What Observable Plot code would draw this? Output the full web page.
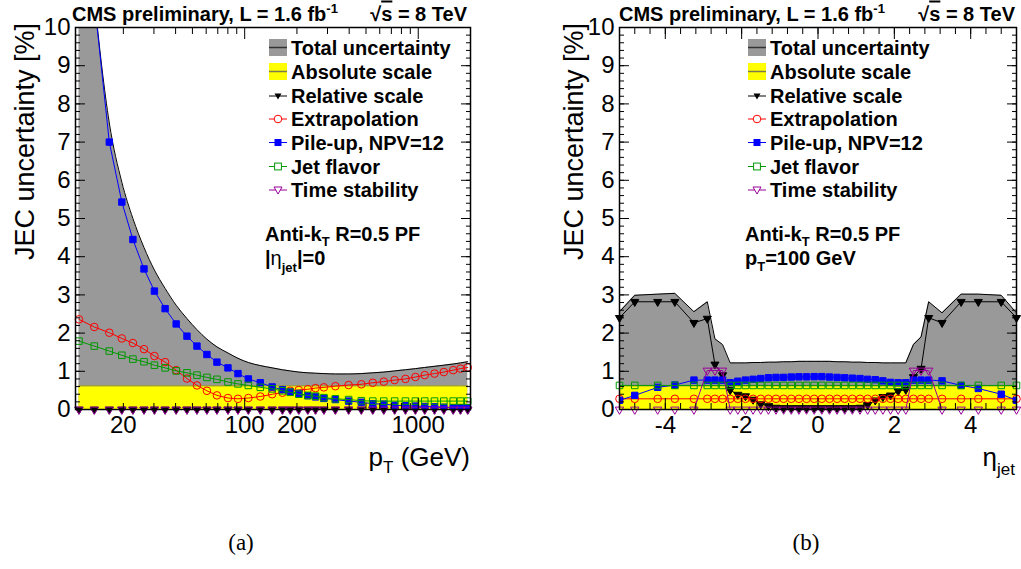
<!DOCTYPE html>
<html><head><meta charset="utf-8">
<script src="https://cdn.jsdelivr.net/npm/d3@7"></script>
<script src="https://cdn.jsdelivr.net/npm/@observablehq/plot@0.6"></script>
<style>
body{margin:0;background:#fff;}
#root{position:relative;width:1021px;height:569px;overflow:hidden;}
#root svg.panel{position:absolute;top:0;}
#overlay{position:absolute;left:0;top:0;pointer-events:none;}
</style></head><body><div id="root"></div>
<script>
// ---------- data: panel (a), vs pT ----------
const ptBins = [11.1,13.6,16.6,19.6,22.7,26.3,30.2,34.8,40.3,46.5,53.1,60.6,69.2,80.1,91.5,105,123,144,165,183,205,231,256,286,333,397,470,547,633,731,844,963,1090,1241,1404,1590,1751,1928];
const ptTotal = [15.5,10.8,7.5,5.95,5.0,4.24,3.65,3.17,2.73,2.38,2.09,1.84,1.64,1.48,1.34,1.23,1.15,1.09,1.04,1.01,0.98,0.96,0.95,0.94,0.93,0.93,0.94,0.96,0.98,1.01,1.04,1.07,1.10,1.13,1.16,1.19,1.22,1.25];
const ptAbsolute = 0.62;
const ptRelative = [0,0,0,0,0,0,0,0,0,0,0,0,0,0,0,0,0,0,0,0,0,0,0,0,0,0,0,0,0,0,0,0,0,0,0,0,0,0];
const ptExtrapolation = [2.36,2.16,2.01,1.86,1.74,1.58,1.40,1.24,1.03,0.81,0.63,0.49,0.37,0.30,0.28,0.30,0.34,0.40,0.44,0.49,0.51,0.53,0.56,0.58,0.61,0.64,0.66,0.70,0.73,0.77,0.80,0.85,0.90,0.94,0.98,1.03,1.07,1.10];
const ptPileup = [15.0,10.7,7.0,5.43,4.45,3.68,3.10,2.64,2.24,1.92,1.66,1.44,1.24,1.09,0.94,0.80,0.70,0.59,0.52,0.46,0.42,0.36,0.33,0.29,0.26,0.22,0.19,0.15,0.14,0.11,0.10,0.09,0.08,0.07,0.06,0.05,0.05,0.05];
const ptFlavor = [1.79,1.66,1.53,1.42,1.32,1.25,1.16,1.09,1.01,0.96,0.90,0.84,0.79,0.72,0.67,0.63,0.58,0.54,0.49,0.45,0.40,0.37,0.35,0.31,0.28,0.26,0.23,0.22,0.22,0.22,0.22,0.22,0.22,0.22,0.22,0.22,0.22,0.22];
const ptTime = [0,0,0,0,0,0,0,0,0,0,0,0,0,0,0,0,0,0,0,0,0,0,0,0,0,0,0,0,0,0,0,0,0,0,0,0,0,0];

// ---------- data: panel (b), vs eta ----------
const etaBins = [-5.2,-4.8,-4.2,-3.75,-3.25,-2.9,-2.7,-2.5,-2.3,-2.1,-1.9,-1.7,-1.5,-1.3,-1.1,-0.9,-0.7,-0.5,-0.3,-0.1,0.1,0.3,0.5,0.7,0.9,1.1,1.3,1.5,1.7,1.9,2.1,2.3,2.5,2.7,2.9,3.25,3.75,4.2,4.8,5.2];
const etaTotal = [2.56,2.99,3.02,3.04,2.56,2.82,1.85,1.70,1.22,1.22,1.22,1.23,1.23,1.24,1.24,1.25,1.25,1.26,1.26,1.26,1.26,1.26,1.25,1.25,1.24,1.24,1.23,1.23,1.22,1.22,1.22,1.22,1.70,1.90,2.82,2.53,3.02,3.02,2.99,2.53];
const etaAbsolute = 0.62;
const etaRelative = [2.40,2.82,2.82,2.82,2.27,2.38,1.18,0.90,0.51,0.39,0.35,0.26,0.14,0.09,0.05,0.04,0.04,0.04,0.04,0.04,0.04,0.04,0.04,0.04,0.04,0.05,0.12,0.24,0.33,0.37,0.48,0.52,0.85,1.07,2.40,2.27,2.82,2.82,2.82,2.40];
const etaExtrapolation = [0.28,0.28,0.28,0.28,0.28,0.28,0.28,0.28,0.28,0.28,0.28,0.28,0.28,0.28,0.28,0.28,0.28,0.28,0.28,0.28,0.28,0.28,0.28,0.28,0.28,0.28,0.28,0.28,0.28,0.28,0.28,0.28,0.28,0.28,0.28,0.28,0.28,0.28,0.28,0.28];
const etaPileup = [0.24,0.37,0.58,0.64,0.77,0.77,0.77,0.77,0.70,0.74,0.77,0.79,0.81,0.83,0.84,0.84,0.85,0.855,0.855,0.86,0.86,0.85,0.84,0.83,0.82,0.81,0.79,0.78,0.75,0.71,0.70,0.70,0.77,0.77,0.77,0.75,0.63,0.55,0.40,0.24];
const etaFlavor = [0.63,0.63,0.63,0.63,0.63,0.63,0.63,0.63,0.63,0.63,0.63,0.63,0.63,0.63,0.63,0.63,0.63,0.63,0.63,0.63,0.63,0.63,0.63,0.63,0.63,0.63,0.63,0.63,0.63,0.63,0.63,0.63,0.63,0.63,0.63,0.63,0.63,0.63,0.63,0.63];
const etaTime = [0,0,0,0,0,1.02,1.02,1.02,0,0,0,0,0,0,0,0,0,0,0,0,0,0,0,0,0,0,0,0,0,0,0,0,1.02,1.02,1.02,0,0,0,0,0];

// ---------- ticks / labels ----------
const yMajor = [0,1,2,3,4,5,6,7,8,9,10];
const yMinor = d3.range(0, 10.001, 0.2);
const ptMajor = [100, 1000];
const ptMinor = [20,30,40,50,60,70,80,90,200,300,400,500,600,700,800,900,2000];
const ptLabels = [20, 100, 200, 1000];
const etaMajor = [-4,-2,0,2,4];
const etaMinor = d3.range(-5.2, 5.21, 0.4).map(v => Math.round(v*10)/10);
const etaLabels = [-4,-2,0,2,4];

const legendNames = ["Total uncertainty","Absolute scale","Relative scale","Extrapolation","Pile-up, NPV=12","Jet flavor","Time stability"];
const colors = {total:"#999999", absolute:"#ffff00", relative:"#000000", extrapolation:"#ff0000", pileup:"#0000ff", flavor:"#009900", time:"#990099"};

const ptRows = ptBins.map((x,i)=>({x, total:ptTotal[i], abs:ptAbsolute, rel:ptRelative[i], ext:ptExtrapolation[i], pu:ptPileup[i], flav:ptFlavor[i], time:ptTime[i]}));
const etaRows = etaBins.map((x,i)=>({x, total:etaTotal[i], abs:etaAbsolute, rel:etaRelative[i], ext:etaExtrapolation[i], pu:etaPileup[i], flav:etaFlavor[i], time:etaTime[i]}));

function seriesMarks(rows, curveTotal) {
  const line = (y, c) => Plot.lineY(rows, {x:"x", y, stroke:c, strokeWidth:1, clip:true});
  return [
    Plot.areaY(rows, {x:"x", y:"total", fill:colors.total, curve:curveTotal, clip:true}),
    Plot.lineY(rows, {x:"x", y:"total", stroke:"#000", strokeWidth:1, curve:curveTotal, clip:true}),
    Plot.areaY(rows, {x:"x", y:"abs", fill:colors.absolute, clip:true}),
    Plot.lineY(rows, {x:"x", y:"abs", stroke:"#7a7a50", strokeWidth:1, clip:true}),
    line("rel", colors.relative),
    Plot.dot(rows, {x:"x", y:"rel", symbol:"triangle", rotate:180, r:3, fill:colors.relative, stroke:colors.relative, strokeWidth:1}),
    line("ext", colors.extrapolation),
    Plot.dot(rows, {x:"x", y:"ext", symbol:"circle", r:3.8, fill:"none", stroke:colors.extrapolation, strokeWidth:1}),
    line("pu", colors.pileup),
    Plot.dot(rows, {x:"x", y:"pu", symbol:"square", r:3.6, fill:colors.pileup, stroke:colors.pileup, strokeWidth:1, clip:true}),
    line("flav", colors.flavor),
    Plot.dot(rows, {x:"x", y:"flav", symbol:"square", r:3.7, fill:"none", stroke:colors.flavor, strokeWidth:1}),
    line("time", colors.time),
    Plot.dot(rows, {x:"x", y:"time", symbol:"triangle", rotate:180, r:3.1, fill:"none", stroke:colors.time, strokeWidth:1})
  ];
}

function axisMarks(xMajor, xMinor, xLabels, xFmt) {
  const none = () => "";
  return [
    Plot.axisY({anchor:"left", ticks:yMajor, tickSize:-10, tickFormat:none, label:null}),
    Plot.axisY({anchor:"left", ticks:yMinor, tickSize:-5, tickFormat:none, label:null}),
    Plot.axisY({anchor:"right", ticks:yMajor, tickSize:-10, tickFormat:none, label:null}),
    Plot.axisY({anchor:"right", ticks:yMinor, tickSize:-5, tickFormat:none, label:null}),
    Plot.axisX({anchor:"bottom", ticks:xMajor, tickSize:-11, tickFormat:none, label:null}),
    Plot.axisX({anchor:"bottom", ticks:xMinor, tickSize:-6, tickFormat:none, label:null}),
    Plot.axisX({anchor:"top", ticks:xMajor, tickSize:-11, tickFormat:none, label:null}),
    Plot.axisX({anchor:"top", ticks:xMinor, tickSize:-6, tickFormat:none, label:null}),
    Plot.axisY({anchor:"left", ticks:yMajor, tickSize:0, tickPadding:5, tickFormat:d=>String(d), label:null}),
    Plot.axisX({anchor:"bottom", ticks:xLabels, tickSize:0, tickPadding:6, tickFormat:xFmt, label:null}),
    Plot.frame({stroke:"#000", strokeWidth:1.5})
  ];
}

const style = {fontFamily:"'Liberation Sans', Arial, Helvetica, sans-serif", fontSize:"24px", color:"#000", background:"transparent"};

const left = Plot.plot({
  width: 500, height: 569,
  marginLeft: 75, marginRight: 30, marginTop: 27, marginBottom: 160,
  x: {type:"log", domain:[10.6, 2000], label:null},
  y: {domain:[0,10], label:null},
  style,
  marks: [...seriesMarks(ptRows, "monotone-x"), ...axisMarks(ptMajor, ptMinor, ptLabels, d=>String(d))]
});
left.classList.add("panel"); left.style.left = "0px";

const right = Plot.plot({
  width: 481, height: 569,
  marginLeft: 79, marginRight: 5, marginTop: 27, marginBottom: 160,
  x: {domain:[-5.2, 5.2], label:null},
  y: {domain:[0,10], label:null},
  style,
  marks: [...seriesMarks(etaRows, "linear"), ...axisMarks(etaMajor, etaMinor, etaLabels, d=>String(d).replace("−","-"))]
});
right.classList.add("panel"); right.style.left = "540px";

const root = document.getElementById("root");
root.appendChild(left); root.appendChild(right);

// ---------- text overlay ----------
const NS = "http://www.w3.org/2000/svg";
const ov = document.createElementNS(NS, "svg");
ov.setAttribute("id","overlay"); ov.setAttribute("width",1021); ov.setAttribute("height",569);
ov.setAttribute("font-family","'Liberation Sans', Arial, Helvetica, sans-serif");
root.appendChild(ov);
function el(tag, attrs, html) {
  const e = document.createElementNS(NS, tag);
  for (const k in attrs) e.setAttribute(k, attrs[k]);
  if (html !== undefined) e.innerHTML = html;
  ov.appendChild(e); return e;
}
const legendBaselines = [54.5, 78.5, 103, 126, 149.5, 173.5, 197];

function panelText(o) {
  el("text", {x:o.hx, y:20.5, "font-size":20, "font-weight":"bold"}, 'CMS preliminary, L = 1.6 fb<tspan font-size="13" dy="-8">-1</tspan>');
  el("text", {x:o.sx, y:20.5, "font-size":20, "font-weight":"bold", "text-anchor":"end"}, '√<tspan style="text-decoration:overline">s</tspan> = 8 TeV');
  const sx = o.lx, sw = 18;
  legendNames.forEach((name, i) => {
    const b = legendBaselines[i], c = b - 7;
    el("text", {x:o.lx + 22, y:b, "font-size":20, "font-weight":"bold"}, name);
    if (i === 0) { el("rect",{x:sx,y:c-8.5,width:sw,height:17,fill:colors.total}); el("line",{x1:sx,x2:sx+sw,y1:c,y2:c,stroke:"#333","stroke-width":1.5}); }
    else if (i === 1) { el("rect",{x:sx,y:c-8.5,width:sw,height:17,fill:colors.absolute}); el("line",{x1:sx,x2:sx+sw,y1:c,y2:c,stroke:"#7a7a50","stroke-width":1.5}); }
    else {
      const col = [null,null,colors.relative,colors.extrapolation,colors.pileup,colors.flavor,colors.time][i];
      el("line",{x1:sx,x2:sx+sw,y1:c,y2:c,stroke:col,"stroke-width":1});
      const mx = sx + sw/2;
      if (i === 2) el("path",{d:`M${mx-3.5},${c-2.5}L${mx+3.5},${c-2.5}L${mx},${c+3.5}Z`, fill:col});
      if (i === 3) el("circle",{cx:mx,cy:c,r:3.8,fill:"#fff",stroke:col});
      if (i === 4) el("rect",{x:mx-3.5,y:c-3.5,width:7,height:7,fill:col});
      if (i === 5) el("rect",{x:mx-3.4,y:c-3.4,width:6.8,height:6.8,fill:"#fff",stroke:col});
      if (i === 6) el("path",{d:`M${mx-4},${c-3}L${mx+4},${c-3}L${mx},${c+4}Z`, fill:"#fff", stroke:col});
    }
  });
  el("text", {x:o.ax, y:241, "font-size":20, "font-weight":"bold"}, 'Anti-k<tspan font-size="13" dy="5">T</tspan><tspan dy="-5"> R=0.5 PF</tspan>');
  el("text", {x:o.ax, y:265, "font-size":20, "font-weight":"bold"}, o.line2);
  el("text", {transform:`translate(${o.ytx},23) rotate(-90)`, "font-size":27, "text-anchor":"end"}, "JEC uncertainty [%]");
}
panelText({hx:72, sx:467, lx:269, ax:265, ytx:34,
  line2:'|<tspan font-weight="normal">η</tspan><tspan font-size="13" dy="7">jet</tspan><tspan dy="-7">|=0</tspan>'});
panelText({hx:619, sx:1015, lx:748, ax:745, ytx:583,
  line2:'p<tspan font-size="13" dy="6">T</tspan><tspan dy="-6">=100 GeV</tspan>'});

el("text", {x:470, y:466, "font-size":26, "text-anchor":"end"}, 'p<tspan font-size="17" dy="7">T</tspan><tspan dy="-7"> (GeV)</tspan>');
el("text", {x:1015, y:466, "font-size":26, "text-anchor":"end"}, 'η<tspan font-size="17" dy="9">jet</tspan>');
el("text", {x:241, y:550, "font-size":23, "text-anchor":"middle", "font-family":"'Liberation Serif', 'DejaVu Serif', serif"}, "(a)");
el("text", {x:806, y:550, "font-size":23, "text-anchor":"middle", "font-family":"'Liberation Serif', 'DejaVu Serif', serif"}, "(b)");
</script></body></html>
